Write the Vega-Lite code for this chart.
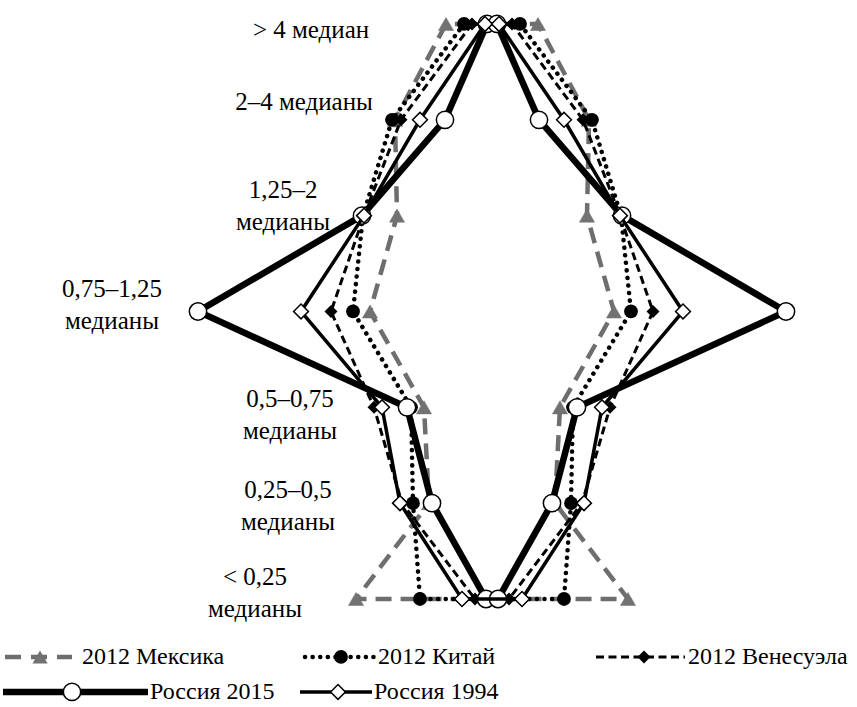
{
  "$schema": "https://vega.github.io/schema/vega-lite/v6.json",
  "width": 857,
  "height": 707,
  "padding": 0,
  "autosize": {"type": "none"},
  "background": "white",
  "config": {"view": {"stroke": null}},
  "datasets": {
    "pts": [
      {"s": "M", "o": 1, "x": -46, "y": 6}, {"s": "M", "o": 2, "x": -97, "y": 5}, {"s": "M", "o": 3, "x": -95, "y": 4}, {"s": "M", "o": 4, "x": -122, "y": 3}, {"s": "M", "o": 5, "x": -68, "y": 2}, {"s": "M", "o": 6, "x": -63, "y": 1}, {"s": "M", "o": 7, "x": -136, "y": 0},
      {"s": "M", "o": 8, "x": 136, "y": 0}, {"s": "M", "o": 9, "x": 63, "y": 1}, {"s": "M", "o": 10, "x": 68, "y": 2}, {"s": "M", "o": 11, "x": 122, "y": 3}, {"s": "M", "o": 12, "x": 95, "y": 4}, {"s": "M", "o": 13, "x": 97, "y": 5}, {"s": "M", "o": 14, "x": 46, "y": 6},
      {"s": "C", "o": 1, "x": -28, "y": 6}, {"s": "C", "o": 2, "x": -100, "y": 5}, {"s": "C", "o": 3, "x": -129, "y": 4}, {"s": "C", "o": 4, "x": -139, "y": 3}, {"s": "C", "o": 5, "x": -81, "y": 2}, {"s": "C", "o": 6, "x": -79, "y": 1}, {"s": "C", "o": 7, "x": -72, "y": 0},
      {"s": "C", "o": 8, "x": 72, "y": 0}, {"s": "C", "o": 9, "x": 79, "y": 1}, {"s": "C", "o": 10, "x": 81, "y": 2}, {"s": "C", "o": 11, "x": 139, "y": 3}, {"s": "C", "o": 12, "x": 129, "y": 4}, {"s": "C", "o": 13, "x": 100, "y": 5}, {"s": "C", "o": 14, "x": 28, "y": 6},
      {"s": "V", "o": 1, "x": -20, "y": 6}, {"s": "V", "o": 2, "x": -91, "y": 5}, {"s": "V", "o": 3, "x": -128, "y": 4}, {"s": "V", "o": 4, "x": -161, "y": 3}, {"s": "V", "o": 5, "x": -118, "y": 2}, {"s": "V", "o": 6, "x": -90, "y": 1}, {"s": "V", "o": 7, "x": -17, "y": 0},
      {"s": "V", "o": 8, "x": 17, "y": 0}, {"s": "V", "o": 9, "x": 90, "y": 1}, {"s": "V", "o": 10, "x": 118, "y": 2}, {"s": "V", "o": 11, "x": 161, "y": 3}, {"s": "V", "o": 12, "x": 128, "y": 4}, {"s": "V", "o": 13, "x": 91, "y": 5}, {"s": "V", "o": 14, "x": 20, "y": 6},
      {"s": "R15", "o": 1, "x": -5, "y": 6}, {"s": "R15", "o": 2, "x": -47, "y": 5}, {"s": "R15", "o": 3, "x": -130, "y": 4}, {"s": "R15", "o": 4, "x": -294, "y": 3}, {"s": "R15", "o": 5, "x": -85, "y": 2}, {"s": "R15", "o": 6, "x": -60, "y": 1}, {"s": "R15", "o": 7, "x": -6, "y": 0},
      {"s": "R15", "o": 8, "x": 6, "y": 0}, {"s": "R15", "o": 9, "x": 60, "y": 1}, {"s": "R15", "o": 10, "x": 85, "y": 2}, {"s": "R15", "o": 11, "x": 294, "y": 3}, {"s": "R15", "o": 12, "x": 130, "y": 4}, {"s": "R15", "o": 13, "x": 47, "y": 5}, {"s": "R15", "o": 14, "x": 5, "y": 6},
      {"s": "R94", "o": 1, "x": -7, "y": 6}, {"s": "R94", "o": 2, "x": -72, "y": 5}, {"s": "R94", "o": 3, "x": -128, "y": 4}, {"s": "R94", "o": 4, "x": -191, "y": 3}, {"s": "R94", "o": 5, "x": -110, "y": 2}, {"s": "R94", "o": 6, "x": -92, "y": 1}, {"s": "R94", "o": 7, "x": -30, "y": 0},
      {"s": "R94", "o": 8, "x": 30, "y": 0}, {"s": "R94", "o": 9, "x": 92, "y": 1}, {"s": "R94", "o": 10, "x": 110, "y": 2}, {"s": "R94", "o": 11, "x": 191, "y": 3}, {"s": "R94", "o": 12, "x": 128, "y": 4}, {"s": "R94", "o": 13, "x": 72, "y": 5}, {"s": "R94", "o": 14, "x": 7, "y": 6}
    ],
    "leg": [
      {"s": "M", "x1": -487, "x2": -420, "xm": -452, "xt": -410, "y": -0.605, "t": "2012 Мексика"},
      {"s": "C", "x1": -187, "x2": -118, "xm": -151, "xt": -114, "y": -0.605, "t": "2012 Китай"},
      {"s": "V", "x1": 104, "x2": 193, "xm": 152, "xt": 196, "y": -0.605, "t": "2012 Венесуэла"},
      {"s": "R15", "x1": -489, "x2": -344, "xm": -420, "xt": -342, "y": -0.97, "t": "Россия 2015"},
      {"s": "R94", "x1": -192, "x2": -120, "xm": -154, "xt": -118, "y": -0.97, "t": "Россия 1994"}
    ],
    "lab": [
      {"t": "> 4 медиан", "x": -181, "y": 5.854},
      {"t": "2–4 медианы", "x": -188, "y": 5.103},
      {"t": "1,25–2\nмедианы", "x": -209, "y": 4.184},
      {"t": "0,75–1,25\nмедианы", "x": -380, "y": 3.152},
      {"t": "0,5–0,75\nмедианы", "x": -202, "y": 2.004},
      {"t": "0,25–0,5\nмедианы", "x": -204, "y": 1.054},
      {"t": "< 0,25\nмедианы", "x": -237, "y": 0.146}
    ]
  },
  "encoding": {
    "x": {"field": "x", "type": "quantitative", "scale": {"domain": [-492, 365], "nice": false, "zero": false}, "axis": null},
    "y": {"field": "y", "type": "quantitative", "scale": {"domain": [-1.127, 6.25], "nice": false, "zero": false}, "axis": null}
  },
  "layer": [
    {
      "data": {"name": "pts"},
      "transform": [{"filter": "datum.s === 'M'"}],
      "layer": [
        {"mark": {"type": "line", "interpolate": "linear-closed", "stroke": "#6e6e6e", "strokeWidth": 4.5, "strokeDash": [16, 9]}, "encoding": {"order": {"field": "o", "type": "quantitative"}}},
        {"mark": {"type": "point", "shape": "triangle-up", "filled": true, "fill": "#727272", "stroke": "#727272", "strokeWidth": 0.5, "size": 230, "opacity": 1}, "encoding": {}}
      ]
    },
    {
      "data": {"name": "pts"},
      "transform": [{"filter": "datum.s === 'C'"}],
      "layer": [
        {"mark": {"type": "line", "interpolate": "linear-closed", "stroke": "#000", "strokeWidth": 4.5, "strokeDash": [0.1, 7.5], "strokeCap": "round"}, "encoding": {"order": {"field": "o", "type": "quantitative"}}},
        {"mark": {"type": "point", "shape": "circle", "filled": true, "fill": "#000", "size": 190, "opacity": 1}, "encoding": {}}
      ]
    },
    {
      "data": {"name": "pts"},
      "transform": [{"filter": "datum.s === 'V'"}],
      "layer": [
        {"mark": {"type": "line", "interpolate": "linear-closed", "stroke": "#000", "strokeWidth": 3, "strokeDash": [8, 4.5]}, "encoding": {"order": {"field": "o", "type": "quantitative"}}},
        {"mark": {"type": "point", "shape": "diamond", "filled": true, "fill": "#000", "size": 170, "opacity": 1}, "encoding": {}}
      ]
    },
    {
      "data": {"name": "pts"},
      "transform": [{"filter": "datum.s === 'R15'"}],
      "layer": [
        {"mark": {"type": "line", "interpolate": "linear-closed", "stroke": "#000", "strokeWidth": 6.5}, "encoding": {"order": {"field": "o", "type": "quantitative"}}},
        {"mark": {"type": "point", "shape": "circle", "filled": true, "fill": "#fff", "stroke": "#000", "strokeWidth": 1.5, "size": 300, "opacity": 1}, "encoding": {}}
      ]
    },
    {
      "data": {"name": "pts"},
      "transform": [{"filter": "datum.s === 'R94'"}],
      "layer": [
        {"mark": {"type": "line", "interpolate": "linear-closed", "stroke": "#000", "strokeWidth": 3.5}, "encoding": {"order": {"field": "o", "type": "quantitative"}}},
        {"mark": {"type": "point", "shape": "diamond", "filled": true, "fill": "#fff", "stroke": "#000", "strokeWidth": 1.5, "size": 220, "opacity": 1}, "encoding": {}}
      ]
    },
    {
      "data": {"name": "leg"},
      "transform": [{"filter": "datum.s === 'M'"}],
      "layer": [
        {"mark": {"type": "rule", "stroke": "#6e6e6e", "strokeWidth": 4.5, "strokeDash": [16, 10]}, "encoding": {"x": {"field": "x1", "type": "quantitative"}, "x2": {"field": "x2"}}},
        {"mark": {"type": "point", "shape": "triangle-up", "filled": true, "fill": "#727272", "size": 230, "opacity": 1}, "encoding": {"x": {"field": "xm", "type": "quantitative"}}}
      ]
    },
    {
      "data": {"name": "leg"},
      "transform": [{"filter": "datum.s === 'C'"}],
      "layer": [
        {"mark": {"type": "rule", "stroke": "#000", "strokeWidth": 4.5, "strokeDash": [0.1, 7.5], "strokeCap": "round"}, "encoding": {"x": {"field": "x1", "type": "quantitative"}, "x2": {"field": "x2"}}},
        {"mark": {"type": "point", "shape": "circle", "filled": true, "fill": "#000", "size": 190, "opacity": 1}, "encoding": {"x": {"field": "xm", "type": "quantitative"}}}
      ]
    },
    {
      "data": {"name": "leg"},
      "transform": [{"filter": "datum.s === 'V'"}],
      "layer": [
        {"mark": {"type": "rule", "stroke": "#000", "strokeWidth": 3, "strokeDash": [8, 4.5]}, "encoding": {"x": {"field": "x1", "type": "quantitative"}, "x2": {"field": "x2"}}},
        {"mark": {"type": "point", "shape": "diamond", "filled": true, "fill": "#000", "size": 170, "opacity": 1}, "encoding": {"x": {"field": "xm", "type": "quantitative"}}}
      ]
    },
    {
      "data": {"name": "leg"},
      "transform": [{"filter": "datum.s === 'R15'"}],
      "layer": [
        {"mark": {"type": "rule", "stroke": "#000", "strokeWidth": 6.5}, "encoding": {"x": {"field": "x1", "type": "quantitative"}, "x2": {"field": "x2"}}},
        {"mark": {"type": "point", "shape": "circle", "filled": true, "fill": "#fff", "stroke": "#000", "strokeWidth": 1.5, "size": 300, "opacity": 1}, "encoding": {"x": {"field": "xm", "type": "quantitative"}}}
      ]
    },
    {
      "data": {"name": "leg"},
      "transform": [{"filter": "datum.s === 'R94'"}],
      "layer": [
        {"mark": {"type": "rule", "stroke": "#000", "strokeWidth": 3.5}, "encoding": {"x": {"field": "x1", "type": "quantitative"}, "x2": {"field": "x2"}}},
        {"mark": {"type": "point", "shape": "diamond", "filled": true, "fill": "#fff", "stroke": "#000", "strokeWidth": 1.5, "size": 220, "opacity": 1}, "encoding": {"x": {"field": "xm", "type": "quantitative"}}}
      ]
    },
    {
      "data": {"name": "leg"},
      "mark": {"type": "text", "font": "Liberation Serif, serif", "align": "left", "baseline": "middle", "fontSize": 24, "fill": "#000"},
      "encoding": {"x": {"field": "xt", "type": "quantitative"}, "text": {"field": "t"}}
    },
    {
      "data": {"name": "lab"},
      "mark": {"type": "text", "font": "Liberation Serif, serif", "align": "center", "baseline": "alphabetic", "fontSize": 25, "lineBreak": "\n", "lineHeight": 32, "fill": "#000"},
      "encoding": {"text": {"field": "t"}}
    }
  ]
}
